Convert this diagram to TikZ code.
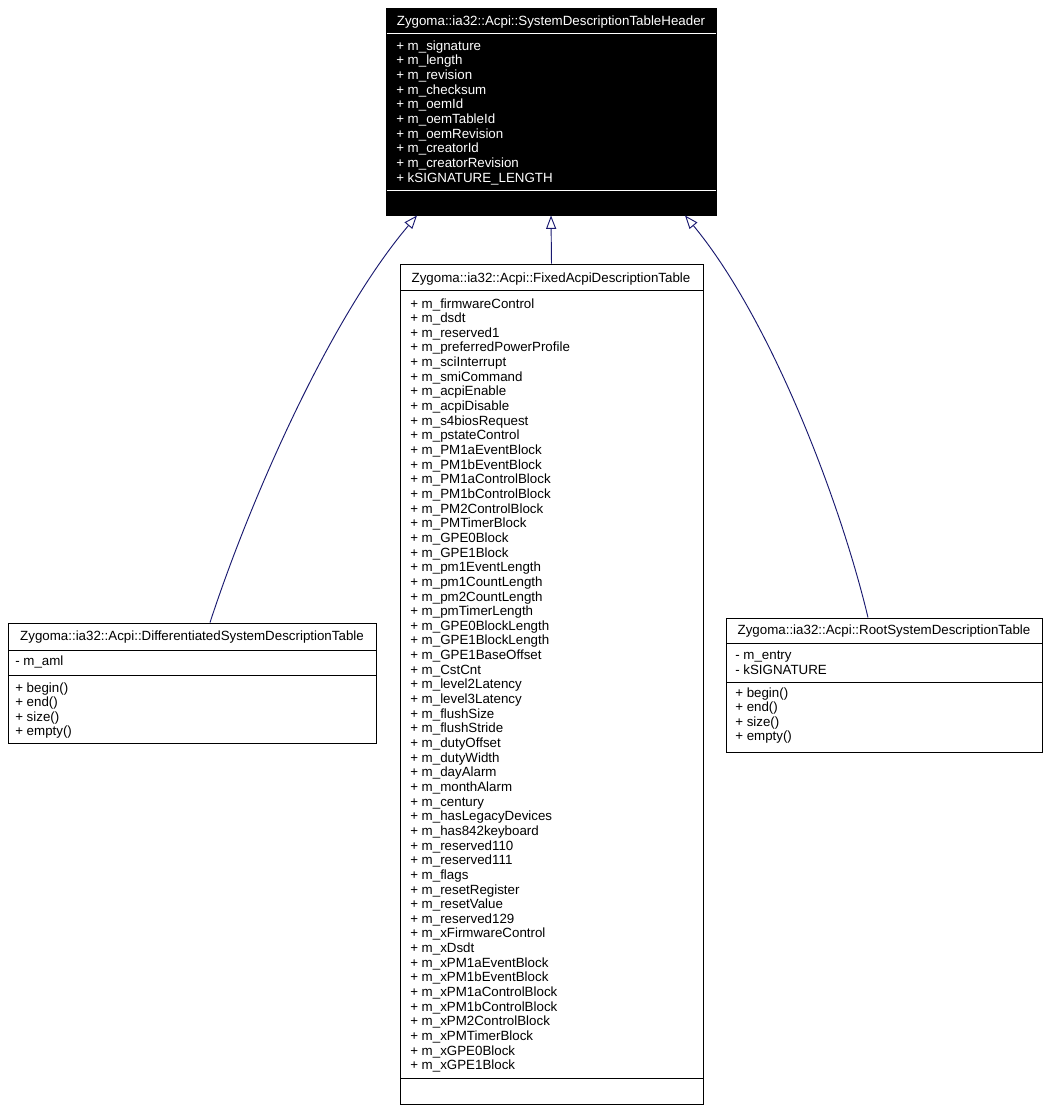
\documentclass[tikz,border=0pt]{standalone}
\usepackage{fontspec}
\setmainfont{Liberation Sans}
\usetikzlibrary{arrows.meta,fit}
\definecolor{edgeblue}{RGB}{25,25,112}
\tikzset{
  cls/.style={draw=black, line width=0.7pt, inner sep=0pt},
  sep/.style={line width=0.7pt},
  txt/.style={inner sep=0pt, anchor=base west, font=\fontsize{10}{11}\selectfont},
  ttl/.style={txt, anchor=base},
  inherit/.style={draw=edgeblue, line width=0.7pt, -{Triangle[open, length=10pt, width=7.5pt]}},
}
\begin{document}
\begin{tikzpicture}[x=0.75pt, y=-0.75pt]
\useasboundingbox (0,0) rectangle (1050,1111);
\fill[white] (0,0) rectangle (1050,1111);

% ---------- base class ----------
\node[cls, fill=black, fit={(386,8) (716,215)}] (hdr) {};
\draw[sep, white] (386.5,33) -- (715.5,33);
\draw[sep, white] (386.5,190) -- (715.5,190);
\node[ttl, text=white] (hdr-t) at (551,25) {Zygoma::ia32::Acpi::SystemDescriptionTableHeader};
\foreach \t [count=\i from 0] in {m\_signature, m\_length, m\_revision, m\_checksum, m\_oemId, m\_oemTableId, m\_oemRevision, m\_creatorId, m\_creatorRevision, kSIGNATURE\_LENGTH}
  \node[txt, text=white] (hdr-a\i) at (396,{50+\i*14.7}) {+ \t};

% ---------- FADT ----------
\node[cls, fit={(400,264) (703,1104)}] (fadt) {};
\draw[sep] (400,290) -- (703,290);
\draw[sep] (400,1078) -- (703,1078);
\node[ttl] (fadt-t) at (551,282) {Zygoma::ia32::Acpi::FixedAcpiDescriptionTable};
\foreach \t [count=\i from 0] in {m\_firmwareControl, m\_dsdt, m\_reserved1, m\_preferredPowerProfile, m\_sciInterrupt, m\_smiCommand, m\_acpiEnable, m\_acpiDisable, m\_s4biosRequest, m\_pstateControl, m\_PM1aEventBlock, m\_PM1bEventBlock, m\_PM1aControlBlock, m\_PM1bControlBlock, m\_PM2ControlBlock, m\_PMTimerBlock, m\_GPE0Block, m\_GPE1Block, m\_pm1EventLength, m\_pm1CountLength, m\_pm2CountLength, m\_pmTimerLength, m\_GPE0BlockLength, m\_GPE1BlockLength, m\_GPE1BaseOffset, m\_CstCnt, m\_level2Latency, m\_level3Latency, m\_flushSize, m\_flushStride, m\_dutyOffset, m\_dutyWidth, m\_dayAlarm, m\_monthAlarm, m\_century, m\_hasLegacyDevices, m\_has842keyboard, m\_reserved110, m\_reserved111, m\_flags, m\_resetRegister, m\_resetValue, m\_reserved129, m\_xFirmwareControl, m\_xDsdt, m\_xPM1aEventBlock, m\_xPM1bEventBlock, m\_xPM1aControlBlock, m\_xPM1bControlBlock, m\_xPM2ControlBlock, m\_xPMTimerBlock, m\_xGPE0Block, m\_xGPE1Block}
  \node[txt] (fadt-a\i) at (410,{308+\i*14.65}) {+ \t};

% ---------- DSDT ----------
\node[cls, fit={(8,623) (376,743)}] (dsdt) {};
\draw[sep] (8,650) -- (376,650);
\draw[sep] (8,675) -- (376,675);
\node[ttl] (dsdt-t) at (192,640) {Zygoma::ia32::Acpi::DifferentiatedSystemDescriptionTable};
\node[txt] (dsdt-a0) at (15,665.5) {- m\_aml};
\foreach \t [count=\i from 0] in {begin(), end(), size(), empty()}
  \node[txt] (dsdt-m\i) at (15,{692+\i*14.65}) {+ \t};

% ---------- RSDT ----------
\node[cls, fit={(726,618) (1042,752)}] (rsdt) {};
\draw[sep] (726,643) -- (1042,643);
\draw[sep] (726,682) -- (1042,682);
\node[ttl] (rsdt-t) at (884,634) {Zygoma::ia32::Acpi::RootSystemDescriptionTable};
\node[txt] (rsdt-a0) at (735,659.5) {- m\_entry};
\node[txt] (rsdt-a1) at (735,674) {- kSIGNATURE};
\foreach \t [count=\i from 0] in {begin(), end(), size(), empty()}
  \node[txt] (rsdt-m\i) at (735,{697+\i*14.65}) {+ \t};

% ---------- inheritance edges ----------
\coordinate (xl) at (210,0);
\coordinate (xlt) at (417,0);
\coordinate (xr) at (868,0);
\coordinate (xrt) at (685,0);
\draw[inherit] (dsdt.north -| xl) .. controls (250,500) and (330,318) .. (hdr.south -| xlt);
\draw[inherit] (fadt.north) -- (hdr.south);
\draw[inherit] (rsdt.north -| xr) .. controls (840,500) and (770,318) .. (hdr.south -| xrt);
\end{tikzpicture}
\end{document}
